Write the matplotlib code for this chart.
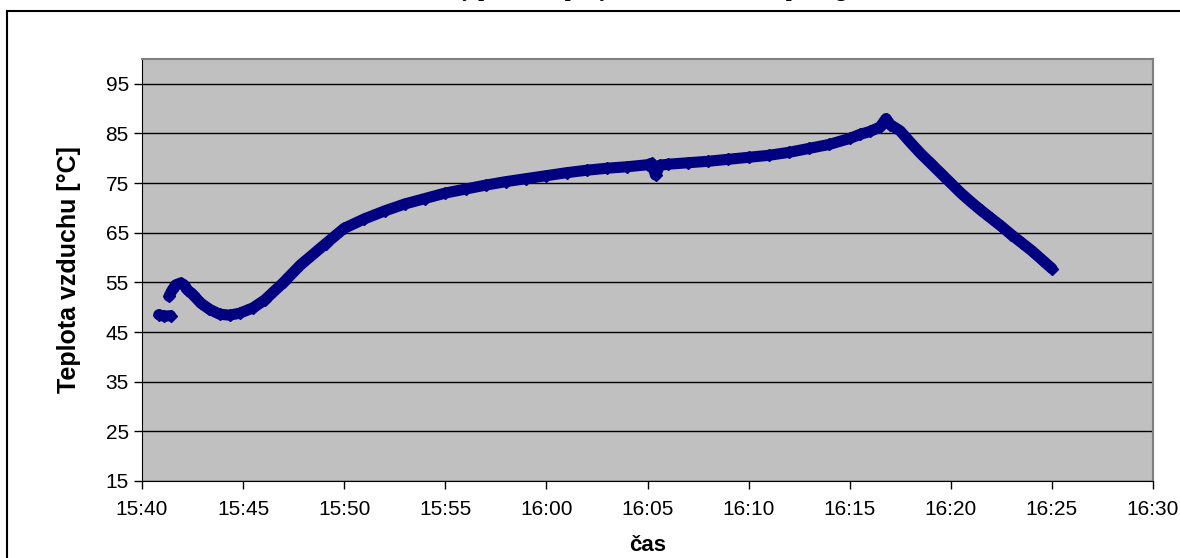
import matplotlib
matplotlib.use("Agg")
import matplotlib.pyplot as plt
import matplotlib.dates as mdates
from matplotlib.patches import Rectangle
import pandas as pd
import numpy as np

plt.rcParams['font.family'] = ['Liberation Sans', 'DejaVu Sans']

# measured air temperature (time, degC); None marks a gap in the record
times = ["15:40:50", "15:41:05", "15:41:25", None,
         "15:41:20", "15:41:30", "15:41:40", "15:41:55", "15:42:05", "15:42:15",
         "15:42:30", "15:42:55", "15:43:20", "15:43:50", "15:44:20", "15:44:50",
         "15:45:30", "15:46:05", "15:47:00", "15:47:50", "15:49:05", "15:50:00",
         "15:51:00", "15:52:00", "15:53:00", "15:54:00", "15:55:00", "15:56:00",
         "15:57:00", "15:58:00", "15:59:00", "16:00:00", "16:01:00", "16:02:00",
         "16:03:00", "16:04:00", "16:05:00", "16:05:12", "16:05:24", "16:05:36",
         "16:06:00", "16:07:00", "16:08:00", "16:09:00", "16:10:00", "16:11:00",
         "16:12:00", "16:13:00", "16:14:00", "16:15:00", "16:15:30", "16:16:00",
         "16:16:30", "16:16:48", "16:17:00", "16:17:30", "16:18:00", "16:18:30",
         "16:19:00", "16:19:30", "16:20:00", "16:20:30", "16:21:00", "16:21:30",
         "16:22:00", "16:22:30", "16:23:00", "16:23:30", "16:24:00", "16:24:30",
         "16:25:00"]
temps = [48.5, 48.2, 48.3, None,
         52.2, 53.5, 54.5, 54.9, 54.5, 53.5,
         52.6, 50.8, 49.6, 48.6, 48.4, 48.8,
         49.9, 51.5, 55.0, 58.5, 62.8, 65.9,
         67.8, 69.4, 70.8, 71.9, 73.0, 73.8,
         74.6, 75.3, 75.9, 76.5, 77.1, 77.6,
         78.0, 78.3, 78.7, 79.0, 76.6, 78.6,
         78.8, 79.1, 79.4, 79.8, 80.2, 80.6,
         81.2, 82.0, 82.8, 84.0, 84.8, 85.4,
         86.3, 88.0, 86.8, 85.5, 83.2, 81.0,
         79.0, 77.0, 75.0, 73.0, 71.2, 69.5,
         67.9, 66.3, 64.6, 63.0, 61.4, 59.6,
         57.8]

title = "Časový průběh teploty vzduchu v sušárně při regulaci"
x_label = "čas"
y_label = "Teplota vzduchu [°C]"
y_ticks = [15, 25, 35, 45, 55, 65, 75, 85, 95]

day = "2000-01-01 "
t = np.array([mdates.date2num(pd.Timestamp(day + s)) if s else np.nan for s in times])
v = np.array([np.nan if x is None else x for x in temps])

fig = plt.figure(figsize=(11.8, 5.58), dpi=100)
ax = fig.add_axes([142/1180, 77/558, (1153-142)/1180, (481-59)/558])
ax.set_facecolor('#C0C0C0')

ax.plot(t, v, color='#000080', linewidth=8, marker='D', markersize=6,
        solid_capstyle='round', solid_joinstyle='round', zorder=3)

ax.xaxis_date()
ax.set_xlim(mdates.date2num(pd.Timestamp(day + "15:40")),
            mdates.date2num(pd.Timestamp(day + "16:30")))
ax.xaxis.set_major_locator(mdates.MinuteLocator(byminute=range(0, 60, 5)))
ax.xaxis.set_major_formatter(mdates.DateFormatter('%H:%M'))
ax.set_ylim(15, 100)
ax.set_yticks(y_ticks)
ax.grid(axis='y', color='black', linewidth=1)
ax.set_axisbelow(True)

for s in ['top', 'right']:
    ax.spines[s].set_color('#808080')
    ax.spines[s].set_linewidth(1.5)
for s in ['left', 'bottom']:
    ax.spines[s].set_color('black')
ax.tick_params(direction='out', length=6, labelsize=15, width=1)
ax.tick_params(axis='x', pad=8)

ax.set_xlabel(x_label, fontsize=16, fontweight='bold', labelpad=11)
ax.set_ylabel(y_label, fontsize=18, fontweight='bold', labelpad=18)

# title sits mostly above the picture, as in the original
fig.text(0.55, 1.008, title, family='Liberation Serif', fontsize=15,
         fontweight='bold', ha='center', va='baseline')

fig.add_artist(Rectangle((7/1180, -0.05), 1.2, 1 - 11/558 + 0.05, fill=False,
                         edgecolor='black', linewidth=1.5, transform=fig.transFigure))

fig.savefig('out.png', dpi=100)
